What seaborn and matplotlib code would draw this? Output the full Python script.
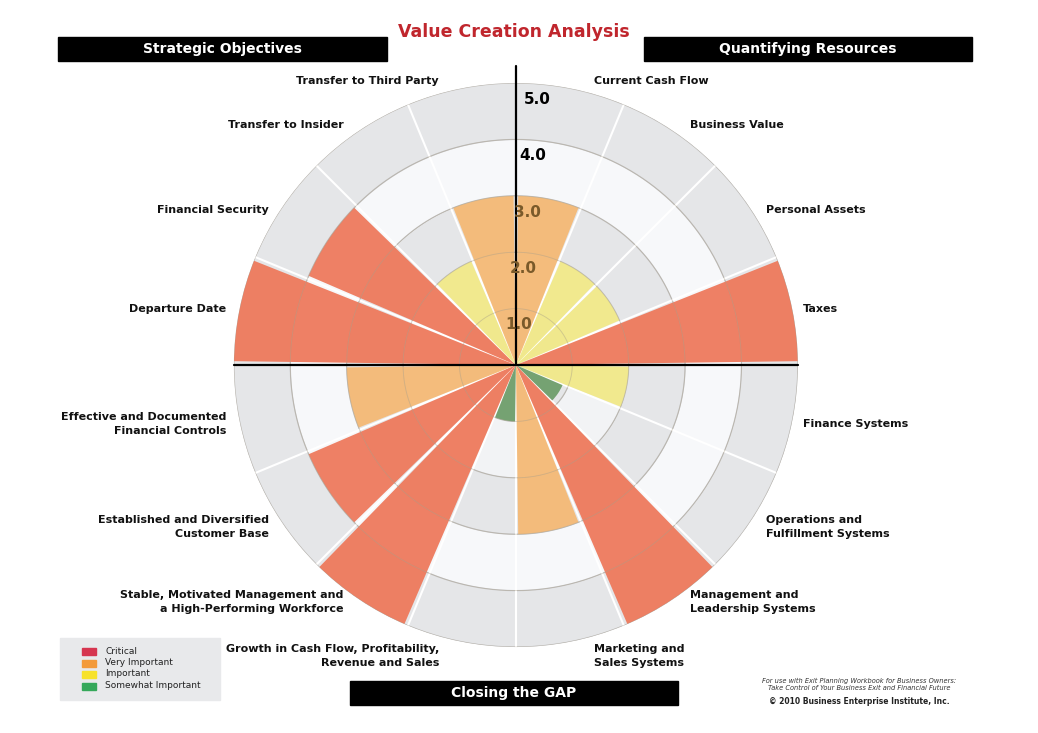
import numpy as np
import matplotlib
matplotlib.use("Agg")
import matplotlib.pyplot as plt
import seaborn as sns
from matplotlib.patches import Rectangle

categories = ["Current Cash Flow", "Business Value", "Personal Assets", "Taxes",
              "Finance Systems", "Operations and\nFulfillment Systems",
              "Management and\nLeadership Systems", "Marketing and\nSales Systems",
              "Growth in Cash Flow, Profitability,\nRevenue and Sales",
              "Stable, Motivated Management and\na High-Performing Workforce",
              "Established and Diversified\nCustomer Base",
              "Effective and Documented\nFinancial Controls",
              "Departure Date", "Financial Security", "Transfer to Insider",
              "Transfer to Third Party"]
values = [3.0, 2.0, 2.0, 5.0, 2.0, 0.9, 5.0, 3.0, 1.0, 5.0, 4.0, 3.0, 5.0, 4.0, 2.0, 3.0]
levels = ["Very Important", "Important", "Important", "Critical", "Important",
          "Somewhat Important", "Critical", "Very Important", "Somewhat Important",
          "Critical", "Critical", "Very Important", "Critical", "Critical",
          "Important", "Very Important"]
level_names = ["Critical", "Very Important", "Important", "Somewhat Important"]
ring_ticks = [1.0, 2.0, 3.0, 4.0, 5.0]

bar_colors = {"Critical": "#ee7658", "Very Important": "#f5b872",
              "Important": "#f1e985", "Somewhat Important": "#6c9c68"}
legend_colors = {"Critical": "#d6354f", "Very Important": "#f39a3a",
                 "Important": "#f7e22a", "Somewhat Important": "#35a85a"}

sns.set_theme(style="white")
plt.rcParams['font.family'] = ['DejaVu Sans']
fig = plt.figure(figsize=(10.38, 7.33), dpi=100)
fig.patch.set_facecolor("white")

ax = fig.add_axes([0.497 - 0.2717, 0.502 - 0.3847, 0.5434, 0.7694], projection="polar")
ax.set_theta_zero_location("N")
ax.set_theta_direction(-1)
ax.set_ylim(0, 5)
ax.set_facecolor("white")
ax.spines["polar"].set_visible(False)
ax.grid(False)
ax.set_xticks([])
ax.set_yticks([])

n = len(categories)
w = 2 * np.pi / n
theta_full = np.linspace(0, 2 * np.pi, 400)
ring_fill = ["#e5e6e8", "#f2f3f5", "#e5e6e8", "#f7f8fa", "#e5e6e8"]
for i in range(5):
    ax.fill_between(theta_full, i, i + 1, color=ring_fill[i], lw=0, zorder=0)
for r in ring_ticks:
    ax.plot(theta_full, [r] * 400, color="#c4c5c8", lw=0.9, zorder=1)
for k in range(n):
    ax.plot([k * w, k * w], [0, 5], color="white", lw=1.5, zorder=1)

theta = np.arange(n) * w + w / 2
ax.bar(theta, values, width=w * 0.93, color=[bar_colors[l] for l in levels],
       alpha=0.92, edgecolor="none", zorder=2)
for r in ring_ticks:
    ax.plot(theta_full, [r] * 400, color="#b0a58f", lw=0.6, alpha=0.5, zorder=3)

# axes lines
ax.plot([0, 0], [0, 5.3], color="black", lw=1.6, zorder=4, clip_on=False)
ax.plot([np.pi / 2, np.pi / 2], [0, 5.0], color="black", lw=1.6, zorder=4, clip_on=False)
ax.plot([3 * np.pi / 2, 3 * np.pi / 2], [0, 5.0], color="black", lw=1.6, zorder=4, clip_on=False)
for r in ring_ticks:
    col = "#7a5a2a" if r <= 3 else "black"
    ax.text(np.deg2rad(4.5), r - 0.28, f"{r:.1f}", fontsize=11, fontweight="bold",
            color=col, ha="center", va="center", zorder=5)

# category labels
label_pos = [(594, 81, "left"), (690, 125, "left"), (766, 210, "left"), (803, 309, "left"),
             (803, 424, "left"), (766, 527, "left"), (690, 602, "left"), (594, 656, "left"),
             (439, 656, "right"), (343, 602, "right"), (269, 527, "right"), (226, 424, "right"),
             (226, 309, "right"), (269, 210, "right"), (344, 125, "right"), (439, 81, "right")]
for name, (x, y, ha) in zip(categories, label_pos):
    fig.text(x / 1038, 1 - y / 733, name, fontsize=8, fontweight="bold", ha=ha,
             va="center", color="#111111", linespacing=1.5)

# title and header bars
fig.text(514 / 1038, 1 - 32 / 733, "Value Creation Analysis", fontsize=12.5,
         fontweight="bold", color="#c0262d", ha="center", va="center")
for (x0, y0, x1, y1, t) in [(58, 37, 387, 61, "Strategic Objectives"),
                            (644, 37, 972, 61, "Quantifying Resources"),
                            (350, 681, 678, 705, "Closing the GAP")]:
    fig.patches.append(Rectangle((x0 / 1038, 1 - y1 / 733), (x1 - x0) / 1038,
                                 (y1 - y0) / 733, transform=fig.transFigure,
                                 color="black", zorder=5))
    fig.text((x0 + x1) / 2 / 1038, 1 - (y0 + y1) / 2 / 733, t, fontsize=10,
             fontweight="bold", color="white", ha="center", va="center", zorder=6)

# legend box
fig.patches.append(Rectangle((60 / 1038, 1 - 700 / 733), 160 / 1038, 62 / 733,
                             transform=fig.transFigure, color="#e8e9eb", zorder=5))
for i, name in enumerate(level_names):
    y = 651 + i * 11.5
    fig.patches.append(Rectangle((82 / 1038, 1 - (y + 4) / 733), 14 / 1038, 7 / 733,
                                 transform=fig.transFigure, color=legend_colors[name], zorder=6))
    fig.text(105 / 1038, 1 - y / 733, name, fontsize=6.5, color="#222222",
             ha="left", va="center", zorder=7)

fig.text(859 / 1038, 1 - 684 / 733,
         "For use with Exit Planning Workbook for Business Owners:\n"
         "Take Control of Your Business Exit and Financial Future",
         fontsize=4.8, style="italic", ha="center", va="center", color="#333333")
fig.text(859 / 1038, 1 - 701 / 733, "© 2010 Business Enterprise Institute, Inc.",
         fontsize=5.5, fontweight="bold", ha="center", va="center", color="#222222")

fig.savefig("out.png", dpi=100)
